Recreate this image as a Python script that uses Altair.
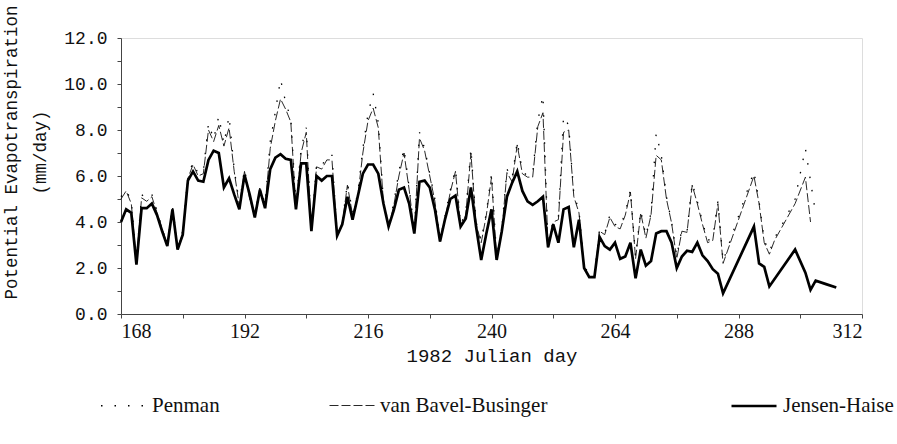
import altair as alt
import pandas as pd

# ---- data ----
jh_days = list(range(168, 286)) + [291, 292, 293, 294, 299, 301, 302, 303, 305, 307]
jh_vals = [4.0, 4.55, 4.4, 2.15, 4.6, 4.6, 4.8, 4.3, 3.6, 2.95,
           4.55, 2.8, 3.45, 5.8, 6.2, 5.8, 5.75, 6.7, 7.1, 7.0,
           5.5, 5.9, 5.2, 4.55, 6.05, 5.2, 4.2, 5.4, 4.6, 6.3,
           6.8, 6.95, 6.75, 6.7, 4.55, 6.55, 6.55, 3.6, 6.0, 5.8,
           6.0, 6.0, 3.4, 3.9, 5.1, 4.1, 5.1, 6.1, 6.5, 6.5,
           6.1, 4.8, 3.8, 4.5, 5.4, 5.5, 4.8, 3.5, 5.75, 5.8,
           5.5, 4.55, 3.15, 4.15, 5.0, 5.15, 3.8, 4.15, 5.5, 3.8,
           2.35, 3.5, 4.55, 2.35, 3.6, 5.1, 5.7, 6.2, 5.35, 4.9,
           4.75, 4.9, 5.1, 2.9, 3.9, 3.1, 4.55, 4.65, 2.9, 4.1,
           2.0, 1.6, 1.6, 3.35, 2.95, 2.8, 3.1, 2.4, 2.5, 3.1,
           1.55, 2.8, 2.1, 2.3, 3.5, 3.6, 3.6, 3.1, 2.0, 2.5,
           2.75, 2.7, 3.1, 2.55, 2.3, 1.95, 1.75, 0.9,
           3.8, 2.2, 2.05, 1.2, 2.8, 1.8, 1.05, 1.45, 1.3, 1.15]

vb_days = list(range(168, 286)) + [291, 292, 293, 294, 295, 297, 299, 301, 302]
vb_vals = [5.0, 5.35, 4.8, 2.3, 5.05, 4.9, 5.1, 4.4, 3.7, 3.0,
           4.6, 2.9, 3.5, 5.9, 6.5, 6.0, 6.1, 8.0, 7.5, 8.2,
           7.3, 8.1, 6.2, 4.7, 6.2, 5.0, 4.3, 5.45, 4.7, 7.2,
           8.4, 9.35, 8.9, 8.35, 4.6, 7.0, 7.9, 3.6, 6.4, 6.3,
           6.7, 6.7, 3.45, 3.95, 5.6, 4.3, 5.1, 7.0, 8.4, 8.95,
           8.1, 4.85, 3.8, 4.7, 6.0, 7.0, 5.4, 3.55, 7.65, 7.1,
           6.0, 4.9, 3.15, 4.2, 5.3, 6.2, 3.8, 4.3, 7.0, 3.9,
           3.1, 4.3, 5.95, 2.4, 3.6, 6.15, 5.75, 7.35, 6.1, 5.95,
           5.95, 8.15, 8.75, 2.9, 4.0, 4.1, 7.9, 8.0, 5.1, 4.4,
           2.0, 1.6, 1.6, 3.6, 3.45, 4.2, 3.8, 3.7, 4.3, 5.3,
           2.4, 4.4, 3.3, 4.3, 6.9, 6.7, 5.0, 3.95, 2.4, 3.6,
           3.55, 5.6, 4.8, 3.9, 3.1, 3.2, 4.8, 2.2,
           6.0, 4.8, 3.1, 2.6, 3.2, 4.0, 4.8, 5.95, 4.0]

pm_days = list(range(168, 286)) + [291, 292, 293, 294, 295, 297, 299, 301, 303]
pm_vals = [5.1, 5.4, 4.9, 2.3, 5.2, 5.0, 5.2, 4.5, 3.7, 3.0,
           4.7, 2.9, 3.6, 6.0, 6.6, 6.1, 6.2, 8.3, 7.6, 8.6,
           7.4, 8.6, 6.3, 4.8, 6.3, 5.1, 4.3, 5.5, 4.8, 7.5,
           8.8, 10.2, 9.2, 8.5, 4.7, 7.2, 8.1, 3.7, 6.5, 6.4,
           6.9, 6.9, 3.5, 4.0, 5.7, 4.4, 5.2, 7.2, 8.7, 9.6,
           8.3, 4.9, 3.9, 4.8, 6.2, 7.2, 5.5, 3.6, 7.9, 7.2,
           6.1, 5.0, 3.2, 4.3, 5.4, 6.3, 3.9, 4.4, 7.2, 4.0,
           3.2, 4.4, 6.1, 2.5, 3.7, 6.3, 5.9, 7.5, 6.2, 6.0,
           6.1, 8.4, 9.5, 3.0, 4.1, 4.2, 8.6, 8.2, 5.2, 4.5,
           2.1, 1.7, 1.7, 3.7, 3.5, 4.3, 3.9, 3.8, 4.4, 5.4,
           2.5, 4.5, 3.4, 4.4, 7.85, 6.9, 5.1, 4.0, 2.5, 3.7,
           3.6, 5.7, 4.9, 4.0, 3.2, 3.3, 4.9, 2.3,
           6.2, 4.9, 3.2, 2.7, 3.3, 4.1, 5.0, 7.2, 4.35]

series_a = ["Penman", "van Bavel-Businger"]
series_b = ["Jensen-Haise"]

rows_a = []
for name, days, vals in [(series_a[0], pm_days, pm_vals),
                         (series_a[1], vb_days, vb_vals)]:
    for d, v in zip(days, vals):
        rows_a.append({"day": d, "et": v, "series": name})
df_a = pd.DataFrame(rows_a)
df_b = pd.DataFrame({"day": jh_days, "et": jh_vals, "method": series_b[0]})

x_ticks = list(range(168, 313, 12))
y_ticks = list(range(0, 13))


def legend_cfg(lx):
    return dict(
        title=None, orient="none", direction="horizontal",
        legendX=lx, legendY=344,
        symbolType="stroke", symbolSize=2025, symbolStrokeColor="#000",
        labelFont="Liberation Serif", labelFontSize=21, labelColor="#111",
        labelOffset=5, columnPadding=107, labelLimit=500,
    )


x_enc = alt.X("day:Q",
              scale=alt.Scale(domain=[168, 312], nice=False, zero=False),
              axis=alt.Axis(values=x_ticks,
                            labelExpr="(datum.value - 168) % 24 == 0 ? datum.label : ''",
                            format="d",
                            title="1982 Julian day",
                            labelFont="Liberation Serif", labelFontSize=20,
                            titleFont="Liberation Mono", titleFontSize=19, titleFontWeight="normal",
                            labelColor="#111", titleColor="#111",
                            tickSize=4, tickColor="#444", domainColor="#444",
                            labelPadding=3, titlePadding=5, grid=False))
y_enc = alt.Y("et:Q",
              scale=alt.Scale(domain=[0, 12], nice=False),
              axis=alt.Axis(values=y_ticks,
                            labelExpr="datum.value % 2 == 0 ? format(datum.value, '.1f') : ''",
                            title=["Potential Evapotranspiration", "(mm/day)"],
                            labelFont="Liberation Mono", labelFontSize=18,
                            titleFont="Liberation Mono", titleFontSize=17.5, titleFontWeight="normal",
                            titleLineHeight=29, titleY=114,
                            labelColor="#111", titleColor="#111",
                            tickSize=4, tickColor="#444", domainColor="#444",
                            labelPadding=10, titlePadding=14, grid=False))

thin = alt.Chart(df_a).mark_line(strokeJoin="miter", strokeCap="butt").encode(
    x=x_enc, y=y_enc,
    color=alt.Color("series:N", sort=series_a,
                    scale=alt.Scale(type="ordinal", domain=series_a, range=["#000", "#111"]),
                    legend=alt.Legend(**legend_cfg(-21))),
    strokeDash=alt.StrokeDash("series:N", sort=series_a,
                              scale=alt.Scale(type="ordinal", domain=series_a,
                                              range=[[1.5, 12], [9, 3]]),
                              legend=alt.Legend(**legend_cfg(-21))),
    strokeWidth=alt.StrokeWidth("series:N", sort=series_a,
                                scale=alt.Scale(type="ordinal", domain=series_a,
                                                range=[1.3, 0.9]),
                                legend=alt.Legend(**legend_cfg(-21))),
    order=alt.Order("day:Q"),
)

thick = alt.Chart(df_b).mark_line(strokeJoin="miter", strokeCap="butt").encode(
    x=x_enc, y=y_enc,
    color=alt.Color("method:N",
                    scale=alt.Scale(type="ordinal", domain=series_b, range=["#000"]),
                    legend=alt.Legend(**legend_cfg(609))),
    strokeWidth=alt.StrokeWidth("method:N",
                                scale=alt.Scale(type="ordinal", domain=series_b, range=[2.7]),
                                legend=alt.Legend(**legend_cfg(609))),
    order=alt.Order("day:Q"),
)

chart = alt.layer(thin, thick).resolve_scale(
    color="independent", strokeWidth="independent", strokeDash="independent"
).resolve_legend(
    color="independent", strokeWidth="independent", strokeDash="independent"
).properties(
    width=741, height=276,
    autosize=alt.AutoSizeParams(type="none"),
    padding={"left": 121, "top": 38, "right": 35, "bottom": 130},
).configure_view(stroke=None).configure(background="white")

chart.save("out.html", embed_options={"renderer": "svg", "actions": False})
